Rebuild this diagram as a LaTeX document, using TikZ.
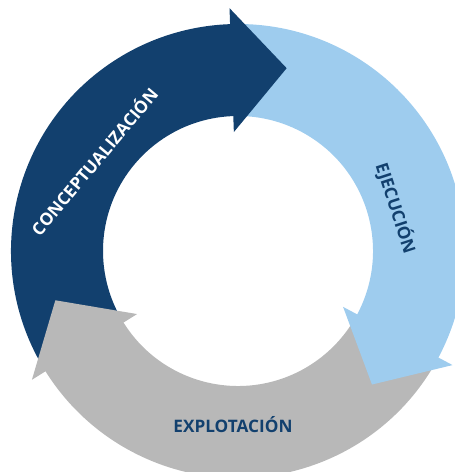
\documentclass[tikz,border=0pt]{standalone}
\usepackage{fontspec}
\setmainfont{Open Sans}
\usetikzlibrary{calc}
\definecolor{dkblue}{RGB}{18,64,110}
\definecolor{ltblue}{RGB}{158,204,238}
\definecolor{grayc}{RGB}{184,184,184}
% body from angle #2 clockwise to angle #3, both ends shifted 1.5 degrees so they hide under heads
\newcommand\bandbody[3]{%
  \fill[#1] ($(c)+(#2-1.5:227)$) arc[start angle=#2-1.5, end angle=#3-1.5, radius=227]
    -- ($(c)+(#3-1.5:135)$) arc[start angle=#3-1.5, end angle=#2-1.5, radius=135] -- cycle;}
\newcommand\bandhead[2]{%
  \fill[#1] ($(c)+(#2:119)$) -- ($(c)+(#2:243)$) -- ($(c)+(#2:181)+(#2-90:55)$) -- cycle;}
\begin{document}
\begin{tikzpicture}[x=1pt,y=1pt,
  lbl/.style={font=\bfseries\fontsize{17.2}{17.2}\selectfont, inner sep=0pt, anchor=base}]
\useasboundingbox (0,0) rectangle (455,472);
\coordinate (c) at (238,221);
% bodies
\bandbody{dkblue}{212}{92}
\bandbody{ltblue}{92}{-28}
\bandbody{grayc}{-28}{-148}
% heads
\bandhead{dkblue}{92}
\bandhead{ltblue}{-28}
\bandhead{grayc}{212}
% labels
\node[lbl, text=white, rotate=50] (concept) at (99.6,306) {CONCEPTUALIZACIÓN};
\node[lbl, text=dkblue, rotate=-72] (ejec) at (390,262) {EJECUCIÓN};
\node[lbl, text=dkblue] (explo) at (233,39) {EXPLOTACIÓN};
\end{tikzpicture}
\end{document}
